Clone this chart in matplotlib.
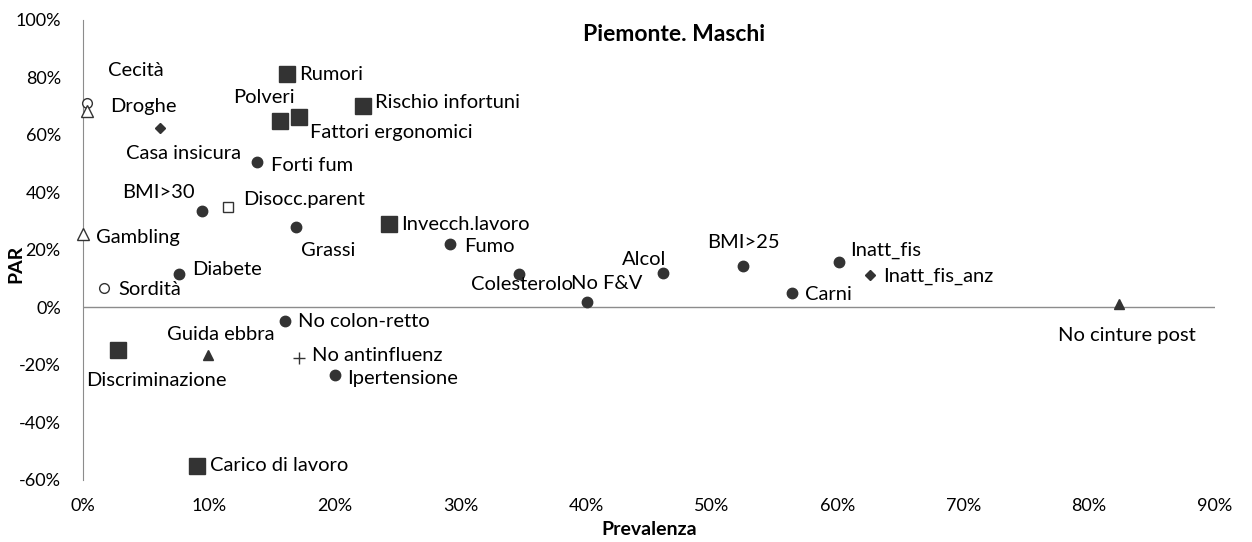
import matplotlib.pyplot as plt
from matplotlib.ticker import PercentFormatter

plt.rcParams['font.family'] = ['Lato', 'DejaVu Sans']
plt.rcParams['axes.unicode_minus'] = False

# data: name, prevalence, PAR, marker type
names = ['Cecità', 'Droghe', 'Casa insicura', 'Rumori', 'Polveri', 'Fattori ergonomici',
         'Rischio infortuni', 'Forti fum', 'BMI>30', 'Disocc.parent', 'Grassi',
         'Invecch.lavoro', 'Gambling', 'Fumo', 'Diabete', 'Sordità', 'Colesterolo',
         'No F&V', 'Alcol', 'BMI>25', 'Carni', 'Inatt_fis', 'Inatt_fis_anz',
         'No cinture post', 'No colon-retto', 'Guida ebbra', 'Discriminazione',
         'No antinfluenz', 'Ipertensione', 'Carico di lavoro']
prev = [0.3, 0.3, 6.1, 16.2, 15.7, 17.2, 22.3, 13.8, 9.5, 11.5, 16.9, 24.3, 0.0,
        29.2, 7.6, 1.7, 34.7, 40.1, 46.1, 52.5, 56.4, 60.1, 62.6, 82.4, 16.1,
        9.9, 2.8, 17.2, 20.0, 9.1]
par = [71.0, 68.5, 62.4, 81.2, 64.9, 66.3, 70.0, 50.6, 33.6, 34.9, 27.9, 29.0, 25.6,
       22.0, 11.7, 6.8, 11.7, 1.9, 12.0, 14.4, 5.0, 15.8, 11.3, 1.2, -4.7,
       -16.5, -14.8, -17.6, -23.5, -55.1]
kind = ['ocirc', 'otri', 'diam', 'sq', 'sq', 'sq', 'sq', 'circ', 'circ', 'osq', 'circ',
        'sq', 'otri', 'circ', 'circ', 'ocirc', 'circ', 'circ', 'circ', 'circ', 'circ',
        'circ', 'diam', 'tri', 'circ', 'tri', 'sq', 'plus', 'circ', 'sq']

# label offsets in pixels (dx, dy, ha)
offsets = {
    'Cecità': (21, 33, 'left'), 'Droghe': (23, 4, 'left'),
    'Casa insicura': (24, -25, 'center'), 'Rumori': (12, 0, 'left'),
    'Polveri': (-17, 23, 'center'), 'Fattori ergonomici': (11, -16, 'left'),
    'Rischio infortuni': (12, 4, 'left'), 'Forti fum': (14, -3, 'left'),
    'BMI>30': (-8, 18, 'right'), 'Disocc.parent': (15, 8, 'left'),
    'Grassi': (5, -23, 'left'), 'Invecch.lavoro': (12, 0, 'left'),
    'Gambling': (13, -4, 'left'), 'Fumo': (14, -2, 'left'),
    'Diabete': (14, 4, 'left'), 'Sordità': (14, -2, 'left'),
    'Colesterolo': (3, -11, 'center'), 'No F&V': (19, 19, 'center'),
    'Alcol': (-19, 13, 'center'), 'BMI>25': (0, 24, 'center'),
    'Carni': (13, -1, 'left'), 'Inatt_fis': (11, 12, 'left'),
    'Inatt_fis_anz': (13, -1, 'left'), 'No cinture post': (8, -31, 'center'),
    'No colon-retto': (13, 0, 'left'), 'Guida ebbra': (13, 20, 'center'),
    'Discriminazione': (38, -30, 'center'), 'No antinfluenz': (13, 3, 'left'),
    'Ipertensione': (13, -3, 'left'), 'Carico di lavoro': (13, 0, 'left'),
}

dark = '#333333'
styles = {
    'sq': dict(marker='s', ms=11, mfc=dark, mec=dark),
    'osq': dict(marker='s', ms=7, mfc='white', mec=dark, mew=1),
    'circ': dict(marker='o', ms=7.5, mfc=dark, mec=dark),
    'ocirc': dict(marker='o', ms=7, mfc='white', mec=dark, mew=1),
    'diam': dict(marker='D', ms=5, mfc=dark, mec=dark),
    'tri': dict(marker='^', ms=7, mfc=dark, mec=dark),
    'otri': dict(marker='^', ms=8, mfc='white', mec=dark, mew=1),
    'plus': dict(marker='+', ms=9, mec=dark, mew=1),
}

fig = plt.figure(figsize=(12.52, 5.42), dpi=100)
ax = fig.add_axes([0.0663, 0.1144, 0.9041, 0.8487])

for n, x, y, k in zip(names, prev, par, kind):
    ax.plot(x, y, linestyle='none', clip_on=False, zorder=3, **styles[k])
    dx, dy, ha = offsets[n]
    ax.annotate(n, (x, y), xytext=(dx, dy), textcoords='offset pixels',
                ha=ha, va='center', fontsize=14.5, color='black')

ax.set_xlim(0, 90)
ax.set_ylim(-60, 100)
ax.set_xticks(range(0, 91, 10))
ax.set_yticks(range(-60, 101, 20))
ax.xaxis.set_major_formatter(PercentFormatter(decimals=0))
ax.yaxis.set_major_formatter(PercentFormatter(decimals=0))
ax.tick_params(length=0, labelsize=13)
ax.tick_params(axis='y', pad=16)
ax.tick_params(axis='x', pad=13)

for s in ['top', 'right', 'bottom']:
    ax.spines[s].set_visible(False)
ax.spines['left'].set_color('#8c8c8c')
ax.axhline(0, color='#8c8c8c', lw=1, zorder=1)

ax.set_xlabel('Prevalenza', fontsize=14, fontweight='bold', labelpad=5)
ax.set_ylabel('PAR', fontsize=14, fontweight='bold', labelpad=0)
ax.yaxis.set_label_coords(-0.052, 0.47)
ax.text(0.5385, 0.937, 'Piemonte. Maschi', transform=fig.transFigure, ha='center',
        va='center', fontsize=16.5, fontweight='bold')

fig.savefig('out.png', dpi=100)
